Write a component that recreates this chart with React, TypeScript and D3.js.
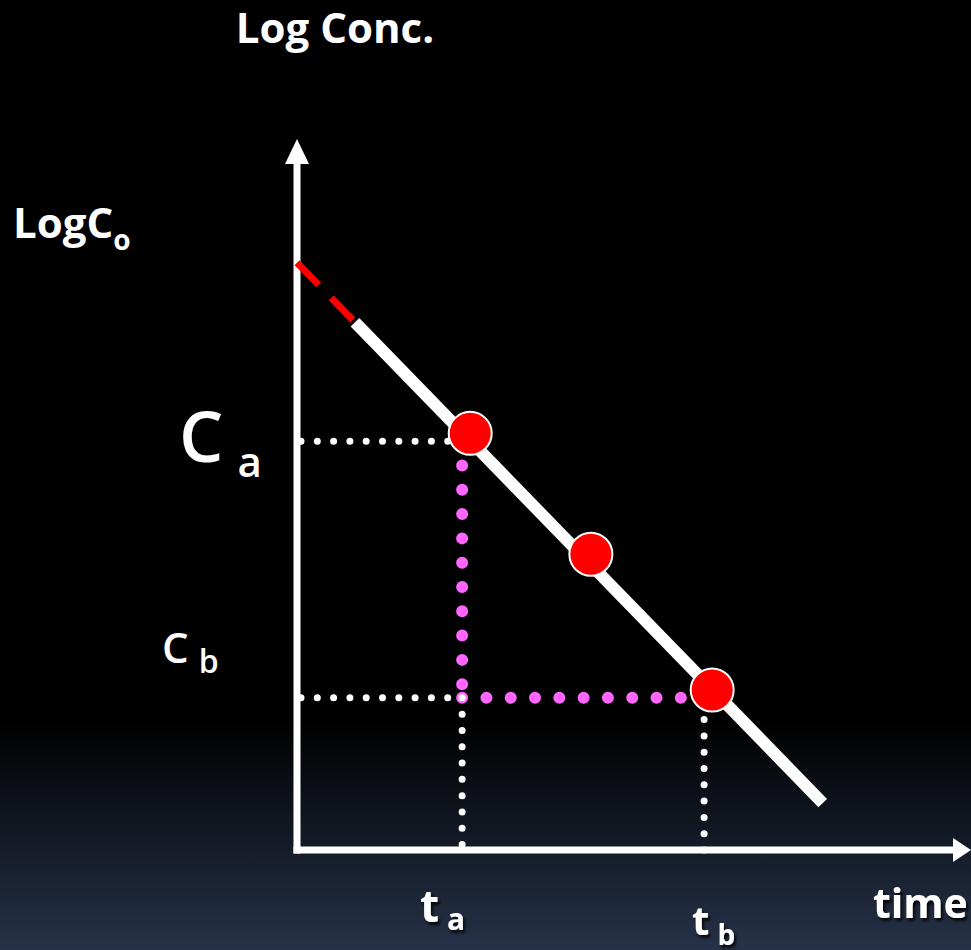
import React from "react";
import * as d3 from "d3";

// ---- data ----
const timeDomain = [0, 10];
const logConcDomain = [0, 10];
const logC0 = 8.26; // intercept on the y axis
const lineStartSolid = 0.86; // time where the solid (measured) line begins
const lineEnd = 7.8; // time where the line ends
const lineEndValue = 0.66;
const pointTimes = [2.57, 4.36, 6.16];
const pointValues = [5.86, 4.16, 2.25];
const tA = 2.45;
const tB = 6.04;
const cA = 5.75;
const cB = 2.14;

const W = 971;
const H = 950;
const FONT = "'Open Sans', 'DejaVu Sans', sans-serif";

export default function App() {
  const x = d3.scaleLinear().domain(timeDomain).range([297, 971]);
  const y = d3.scaleLinear().domain(logConcDomain).range([850, 139]);

  const slope = (lineEndValue - logC0) / (lineEnd - 0);
  const lineY = (t: number) => logC0 + slope * t;
  const line = d3
    .line<[number, number]>()
    .x((d) => x(d[0]))
    .y((d) => y(d[1]));

  const redPart = line([
    [0, logC0],
    [lineStartSolid, lineY(lineStartSolid)],
  ]) as string;
  const whitePart = line([
    [lineStartSolid, lineY(lineStartSolid)],
    [lineEnd, lineEndValue],
  ]) as string;

  const x0 = x(0);
  const y0 = y(0);

  return (
    <svg
      width={W}
      height={H}
      style={{ position: "absolute", left: 0, top: 0, display: "block" }}
      fontFamily={FONT}
    >
      <defs>
        <linearGradient id="bg" x1="0" y1="0" x2="0" y2="1">
          <stop offset="0" stopColor="#000000" />
          <stop offset={String(720 / H)} stopColor="#000000" />
          <stop offset="1" stopColor="#263249" />
        </linearGradient>
        <filter id="shadow" x="-20%" y="-20%" width="150%" height="150%">
          <feDropShadow dx="2" dy="3" stdDeviation="1.5" floodColor="#000" floodOpacity="0.85" />
        </filter>
      </defs>
      <rect x={0} y={0} width={W} height={H} fill="url(#bg)" />

      {/* pink dotted guides */}
      <g stroke="#ff66ff" strokeWidth={12} strokeLinecap="round" strokeDasharray="0 24.3" fill="none">
        <line x1={x(tA)} y1={y(cA)} x2={x(tA)} y2={y(cB)} />
        <line x1={x(tA)} y1={y(cB)} x2={x(tB) - 20} y2={y(cB)} />
      </g>

      {/* white dotted guides */}
      <g stroke="#ffffff" strokeWidth={7} strokeLinecap="round" strokeDasharray="0 16.3" fill="none">
        <line x1={x0 + 4} y1={y(cA)} x2={x(tA) - 10} y2={y(cA)} />
        <line x1={x0 + 4} y1={y(cB)} x2={x(tA)} y2={y(cB)} />
        <line x1={x(tA)} y1={y(cB)} x2={x(tA)} y2={y0} />
        <line x1={x(tB)} y1={y0} x2={x(tB)} y2={y(cB) + 12} />
      </g>

      {/* axes */}
      <line x1={x0} y1={y0 + 3.5} x2={x0} y2={y(10) + 22} stroke="#fff" strokeWidth={7} />
      <path
        d={`M${x0},${y(10)} L${x0 + 12},${y(10) + 25} L${x0 - 12},${y(10) + 25} Z`}
        fill="#fff"
      />
      <line x1={x0 - 3.5} y1={y0} x2={W - 16} y2={y0} stroke="#fff" strokeWidth={7} />
      <path d={`M${W},${y0} L${W - 18},${y0 - 12} L${W - 18},${y0 + 12} Z`} fill="#fff" />

      {/* extrapolated (red dashed) and measured (white) line */}
      <path d={redPart} stroke="#ff0000" strokeWidth={7} strokeDasharray="31 18" fill="none" />
      <path d={whitePart} stroke="#ffffff" strokeWidth={12} fill="none" />

      {/* data points */}
      {pointTimes.map((t, i) => (
        <circle
          key={i}
          cx={x(t)}
          cy={y(pointValues[i])}
          r={21.5}
          fill="#ff0000"
          stroke="#ffffff"
          strokeWidth={2}
        />
      ))}

      {/* labels */}
      <g fill="#fff">
        <text x={335} y={43} fontSize={42} fontWeight={700} textAnchor="middle">
          Log Conc.
        </text>
        <text x={13} y={238} fontSize={42} fontWeight={700}>
          LogC
          <tspan fontSize={28} dy={12}>o</tspan>
        </text>
        <text x={179} y={462} fontSize={70} fontWeight={600}>
          C
          <tspan fontSize={42} dx={14} dy={15}>a</tspan>
        </text>
        <text x={162} y={663} fontSize={42} fontWeight={600}>
          C
          <tspan fontSize={32} dx={10} dy={10}>b</tspan>
        </text>
        <g filter="url(#shadow)">
          <text x={420} y={922} fontSize={44} fontWeight={700}>
            t
            <tspan fontSize={30} dx={8} dy={8}>a</tspan>
          </text>
          <text x={692} y={935} fontSize={40} fontWeight={700}>
            t
            <tspan fontSize={28} dx={8} dy={10}>b</tspan>
          </text>
          <text x={873} y={918} fontSize={41} fontWeight={700}>
            time
          </text>
        </g>
      </g>
    </svg>
  );
}
